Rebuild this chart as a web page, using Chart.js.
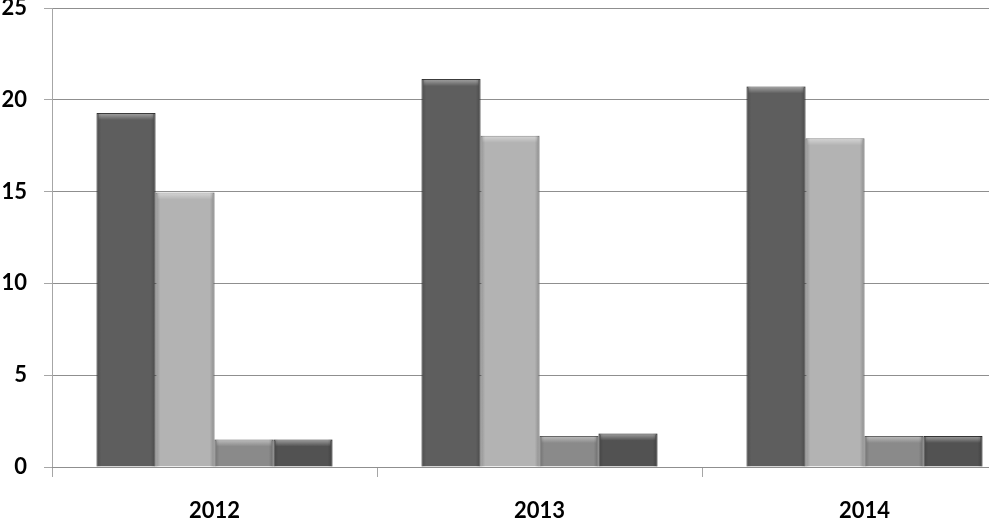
<!DOCTYPE html>
<html lang="en">
<head>
    <meta charset="UTF-8">
    <title>2012-2014</title>
    <script src="https://cdn.jsdelivr.net/npm/chart.js"></script>
    <style>
        html, body {
            margin: 0;
            padding: 0;
            background: #ffffff;
            overflow: hidden;
        }
        .chart-box {
            position: relative;
            width: 1027px;
            height: 518px;
        }
    </style>
</head>
<body>
    <div class="chart-box">
        <canvas id="barChart"></canvas>
    </div>

    <script>
        // data
        const years = ['2012', '2013', '2014'];
        const seriesA = [19.28, 21.13, 20.73];
        const seriesB = [14.95, 18.04, 17.9];
        const seriesC = [1.5, 1.69, 1.69];
        const seriesD = [1.5, 1.82, 1.69];
        const yTicks = [0, 5, 10, 15, 20, 25];

        const fillColors = ['#5e5e5e', '#b3b3b3', '#8a8a8a', '#525252'];
        const edgeColors = ['#3c3c3c', '#8c8c8c', '#666666', '#333333'];

        // light bevel on the top and side edges of every bar
        const bevelPlugin = {
            id: 'bevel',
            afterDatasetsDraw(chart) {
                const ctx = chart.ctx;
                chart.data.datasets.forEach((ds, i) => {
                    chart.getDatasetMeta(i).data.forEach(bar => {
                        const left = bar.x - bar.width / 2;
                        const w = bar.width;
                        const top = bar.y;
                        const h = bar.base - bar.y;
                        ctx.save();
                        let g = ctx.createLinearGradient(0, top, 0, top + 7);
                        g.addColorStop(0, 'rgba(255,255,255,0.45)');
                        g.addColorStop(1, 'rgba(255,255,255,0)');
                        ctx.fillStyle = g;
                        ctx.fillRect(left + 2, top + 1, w - 4, Math.min(7, h));
                        g = ctx.createLinearGradient(left, 0, left + w, 0);
                        g.addColorStop(0, 'rgba(0,0,0,0.18)');
                        g.addColorStop(0.08, 'rgba(0,0,0,0)');
                        g.addColorStop(0.92, 'rgba(0,0,0,0)');
                        g.addColorStop(1, 'rgba(0,0,0,0.22)');
                        ctx.fillStyle = g;
                        ctx.fillRect(left, top, w, h);
                        ctx.restore();
                    });
                });
            }
        };

        const mkSet = (values, i) => ({
            label: 'S' + (i + 1),
            data: values,
            backgroundColor: fillColors[i],
            borderColor: edgeColors[i],
            borderWidth: 1,
            barPercentage: 1,
            categoryPercentage: 0.726
        });

        const ctx = document.getElementById('barChart').getContext('2d');
        const barChart = new Chart(ctx, {
            type: 'bar',
            data: {
                labels: years,
                datasets: [seriesA, seriesB, seriesC, seriesD].map(mkSet)
            },
            options: {
                responsive: true,
                maintainAspectRatio: false,
                animation: false,
                layout: {
                    padding: { top: 8, right: 0, bottom: 0, left: 0 }
                },
                plugins: {
                    legend: { display: false },
                    tooltip: { enabled: false }
                },
                scales: {
                    y: {
                        min: 0,
                        max: 25,
                        afterFit: (scale) => {
                            scale.width = 52;
                            scale.paddingTop = 0;
                            scale.paddingBottom = 0;
                        },
                        afterBuildTicks: (scale) => {
                            scale.ticks = yTicks.map(v => ({ value: v }));
                        },
                        grid: {
                            color: '#8f8f8f',
                            lineWidth: 1,
                            tickLength: 8,
                            tickColor: '#a6a6a6'
                        },
                        border: { color: '#a6a6a6' },
                        ticks: {
                            padding: 17,
                            color: '#000000',
                            font: { family: 'Lato', size: 22, weight: 'bold' }
                        }
                    },
                    x: {
                        afterFit: (scale) => { scale.height = 51; },
                        grid: {
                            offset: true,
                            drawOnChartArea: false,
                            tickLength: 10,
                            tickColor: '#a6a6a6'
                        },
                        border: { color: '#8f8f8f' },
                        ticks: {
                            padding: 21,
                            color: '#000000',
                            font: { family: 'Lato', size: 22, weight: 'bold' }
                        }
                    }
                }
            },
            plugins: [bevelPlugin]
        });
    </script>
</body>
</html>
